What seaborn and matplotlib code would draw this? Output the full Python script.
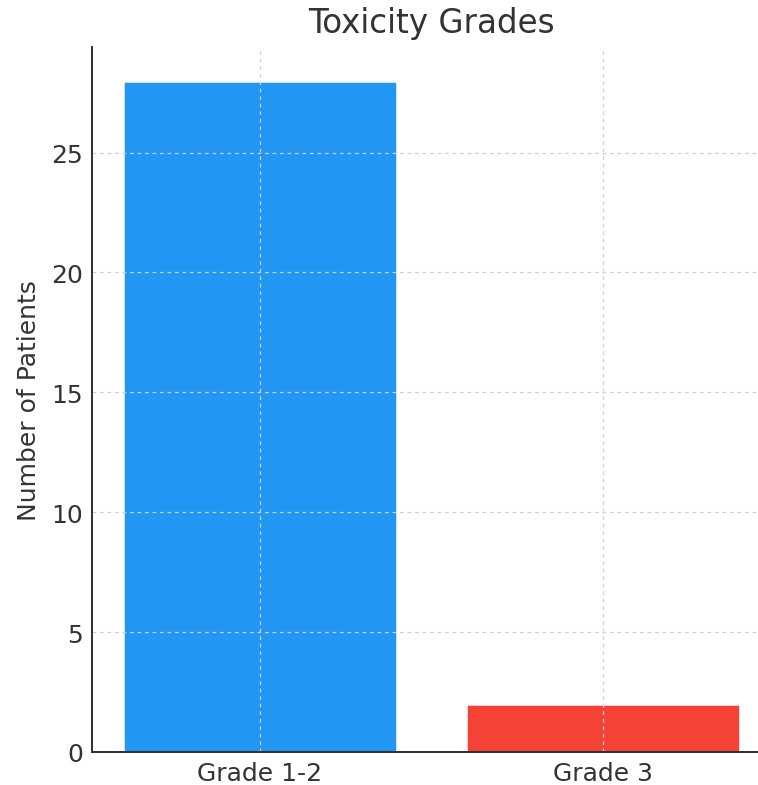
import matplotlib
matplotlib.use("Agg")
import matplotlib.pyplot as plt
import seaborn as sns
import pandas as pd

categories = ["Grade 1-2", "Grade 3"]
patients = [28, 2]
colors = ["#2196F3", "#F44336"]

sns.set_style("white")
plt.rcParams['font.family'] = ['DejaVu Sans']

df = pd.DataFrame({"Grade": categories, "Patients": patients})

fig = plt.figure(figsize=(758/180, 786/180), dpi=180)
# axes extends beyond right edge (as in the cropped reference)
ax = fig.add_axes([92/758, 1 - 753/786, (771-92)/758, (753-48)/786])

sns.barplot(data=df, x="Grade", y="Patients", hue="Grade", palette=colors,
            dodge=False, legend=False, width=0.8, saturation=1, ax=ax)

ax.set_xlim(-0.49, 1.49)
ax.set_ylim(0, 29.4)
ax.set_yticks([0, 5, 10, 15, 20, 25])
ax.set_title("Toxicity Grades", fontsize=13, color="#333333", pad=6)
ax.set_ylabel("Number of Patients", fontsize=10, color="#333333")
ax.set_xlabel("")
ax.tick_params(axis="both", direction="in", length=3, width=0.8, labelsize=10,
               labelcolor="#333333", color="#333333")
ax.grid(True, linestyle=(0, (3, 3)), color="#d0d0d0", linewidth=0.5)
ax.set_axisbelow(False)
for s in ["top", "right"]:
    ax.spines[s].set_visible(False)
for s in ["left", "bottom"]:
    ax.spines[s].set_color("#333333")
    ax.spines[s].set_linewidth(0.8)
    ax.spines[s].set_zorder(5)

fig.savefig("out.png", dpi=180)
